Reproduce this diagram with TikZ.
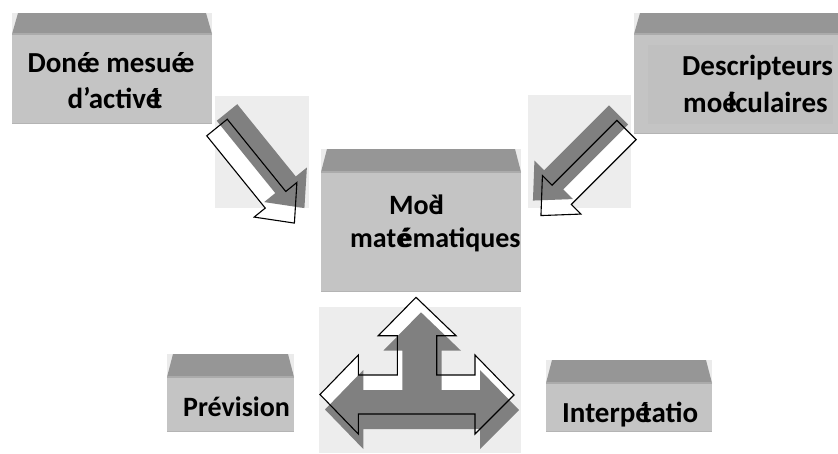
\documentclass[tikz,border=0pt]{standalone}
\usepackage{fontspec}
\setmainfont{Carlito}

\definecolor{facegray}{HTML}{C4C4C4}
\definecolor{topgray}{HTML}{969696}
\definecolor{cornergray}{HTML}{EBEBEB}
\definecolor{seamgray}{HTML}{ABABAB}
\definecolor{edgegray}{HTML}{B4B4B4}
\definecolor{panelgray}{HTML}{C0C0C0}
\definecolor{padgray}{HTML}{EDEDED}
\definecolor{shadegray}{HTML}{808080}

% two glyphs printed on top of each other, the second one shifted by #3
\newcommand\glyphpair[3]{\rlap{#1}\kern#3#2}

% box with a slanted lid: name, x1, y1 (lid top), y2 (lid bottom), x2, y3 (face bottom)
\newcommand\prismbox[6]{%
  \fill[cornergray] (#2,#3) rectangle (#5,#4);
  \fill[topgray] (#2+6,#3) -- (#5-6,#3) -- (#5,#4) -- (#2,#4) -- cycle;
  \pgfmathsetmacro\boxw{#5-#2}\pgfmathsetmacro\boxh{#6-#4}
  \node[face, anchor=north west, minimum width=\boxw pt, minimum height=\boxh pt] (#1) at (#2,#4) {};
  \draw[seamgray, line width=1.2pt] (#1.north west) -- (#1.north east);
  \draw[edgegray, line width=1pt] ([yshift=0.5pt]#1.south west) -- ([yshift=0.5pt]#1.south east);
}

% block arrow outline along +x: length, shaft half width, head half width, head length
\newcommand\arrowpath[4]{(0,#2) -- (#1-#4,#2) -- (#1-#4,#3) -- (#1,0) -- (#1-#4,-#3) -- (#1-#4,-#2) -- (0,-#2) -- cycle}

% hollow block arrow with a grey copy behind it:
% x, y (tail centre), angle, length, shaft half width, head half width, head length, dx, dy (grey copy offset)
\newcommand\blockarrow[9]{%
  \begin{scope}[shift={(#1,#2)}, rotate=#3]
    \fill[white] \arrowpath{#4}{#5}{#6}{#7};
  \end{scope}
  \begin{scope}[shift={(#1+#8,#2+#9)}, rotate=#3]
    \fill[shadegray] \arrowpath{#4}{#5}{#6}{#7};
  \end{scope}
  \begin{scope}[shift={(#1,#2)}, rotate=#3]
    \draw[outline] \arrowpath{#4}{#5}{#6}{#7};
  \end{scope}
}

% three-way arrow (up, left, right)
\newcommand\forkpath{(416,297.3) -- (456,335.7) -- (436.7,335.7) -- (436.7,375) -- (475,375) -- (475,355)
  -- (514,395) -- (475,434) -- (475,414) -- (358.3,414) -- (358.3,434) -- (320,394.5)
  -- (358.3,355) -- (358.3,375) -- (397.3,375) -- (397.3,335.7) -- (378.3,335.7) -- cycle}

\begin{document}
\begin{tikzpicture}[x=1pt, y=-1pt,
  face/.style={fill=facegray, draw=none, inner sep=0pt, outer sep=0pt},
  outline/.style={draw=black, line width=1.1pt, line join=miter},
  txt/.style={font=\bfseries\fontsize{29}{34}\selectfont, inner sep=0pt, text=black},
  txtsmall/.style={txt, font=\bfseries\fontsize{28}{33}\selectfont}]

\useasboundingbox (0,0) rectangle (838,453);
\clip (0,0) rectangle (838,453);
\fill[white] (0,0) rectangle (838,453);

% pads behind the arrows
\fill[padgray] (215,96) rectangle (309,208);
\fill[padgray] (528,95) rectangle (631,208);
\fill[padgray] (319,307) rectangle (521,453);

% boxes
\prismbox{data}{12}{13}{34}{212}{124}
\prismbox{desc}{634}{13}{34}{850}{134}
\fill[panelgray] (648,45) rectangle (833,124);
\prismbox{model}{321}{149}{172}{521}{292}
\prismbox{prev}{167}{354}{377}{294}{432}
\prismbox{interp}{546}{360}{383}{712}{432}

% labels
\node[txt, anchor=base] (data1) at (111,72) {Don\glyphpair{é}{e}{0.28em} mesu\glyphpair{é}{e}{0.28em}};
\node[txt, anchor=base] (data2) at (115,108) {d’activ\glyphpair{é}{t}{0.22em}};
\node[txt, anchor=base west] (desc1) at (682,75) {Descripteurs};
\node[txt, anchor=base west] (desc2) at (683,112) {mo\glyphpair{é}{l}{0.2em}culaires};
\node[txtsmall, anchor=base west] (model1) at (389,214) {Mo\glyphpair{è}{l}{0.3em}};
\node[txtsmall, anchor=base west] (model2) at (350,247.5) {mat\glyphpair{é}{é}{0.08em}matiques};
\node[txtsmall, anchor=base west] (prev1) at (183,416) {Prévision};
\node[txt, anchor=base west] (interp1) at (562,422) {Interp\glyphpair{é}{t}{0.22em}atio};

% arrows
\blockarrow{217}{127.5}{-51}{123}{13.2}{27.5}{30}{10}{-15}
\blockarrow{626.5}{130}{-135}{121}{13.6}{27.2}{29.3}{-8}{-15}

\fill[white] \forkpath;
\begin{scope}[shift={(5,15)}]
  \fill[shadegray] \forkpath;
\end{scope}
\draw[outline] \forkpath;

\end{tikzpicture}
\end{document}
